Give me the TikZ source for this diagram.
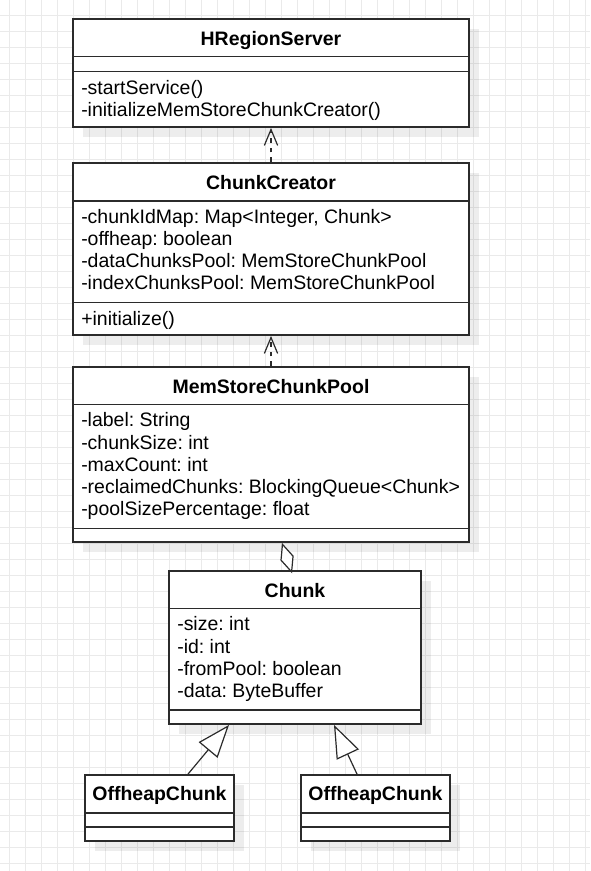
\documentclass[tikz,border=0pt]{standalone}
\usepackage{fontspec}
\setmainfont{Liberation Sans}
\usetikzlibrary{arrows.meta,calc,fit,shadows}
\definecolor{gridc}{HTML}{EAEAEA}
\definecolor{linec}{HTML}{2B2B2B}
\frenchspacing
\begin{document}
\begin{tikzpicture}[x=0.75pt,y=-0.75pt,
  gridline/.style={draw=gridc,line width=0.75pt},
  classbox/.style={draw=linec,line width=1.4pt,fill=white,inner sep=0pt,
    drop shadow={shadow xshift=7.5pt,shadow yshift=-7.5pt,fill=black,opacity=0.07}},
  sepline/.style={draw=linec,line width=1.1pt},
  attr/.style={anchor=base west,inner sep=0pt,text=black,font=\fontsize{14.6}{17}\selectfont\frenchspacing},
  ctitle/.style={anchor=base,inner sep=0pt,text=black,font=\fontsize{14.6}{17}\selectfont\bfseries},
  dep/.style={draw=linec,line width=0.9pt,dash pattern=on 3.6pt off 3.6pt,
    -{Straight Barb[length=12pt,width=10pt,line width=0.9pt]}},
  agg/.style={draw=linec,line width=0.9pt,{Diamond[length=24pt,width=10.5pt,fill=white]}-},
  gen/.style={draw=linec,line width=0.9pt,-{Triangle[length=24.5pt,width=18.3pt,fill=white]}}
]
\useasboundingbox (0,0) rectangle (590,871);
\fill[white] (0,0) rectangle (590,871);
\foreach \i in {0,...,36} \draw[gridline] ({9.3+16*\i},0) -- ({9.3+16*\i},871);
\foreach \j in {0,...,53} \draw[gridline] (0,{15.3+16*\j}) -- (590,{15.3+16*\j});

% HRegionServer
\node[classbox,fit={(73,19) (469,127)}] (hrs) {};
\draw[sepline] (73,56.7) -- (469,56.7);
\draw[sepline] (73,71.7) -- (469,71.7);
\node[ctitle] (hrst) at (271,45.7) {HRegionServer};
\node[attr] (hrsm1) at (81,94.2) {-startService()};
\node[attr] (hrsm2) at (81,116.5) {-initializeMemStoreChunkCreator()};

% ChunkCreator
\node[classbox,fit={(73,163) (469,335)}] (cc) {};
\draw[sepline] (73,201) -- (469,201);
\draw[sepline] (73,302.7) -- (469,302.7);
\node[ctitle] (cct) at (271,189.7) {ChunkCreator};
\node[attr] (cca1) at (81,223) {-chunkIdMap: Map<Integer, Chunk>};
\node[attr] (cca2) at (81,245.3) {-offheap: boolean};
\node[attr] (cca3) at (81,267.6) {-dataChunksPool: MemStoreChunkPool};
\node[attr] (cca4) at (81,289.9) {-indexChunksPool: MemStoreChunkPool};
\node[attr] (ccm1) at (81,325) {+initialize()};

% MemStoreChunkPool
\node[classbox,fit={(73,367) (469,542)}] (pool) {};
\draw[sepline] (73,404.5) -- (469,404.5);
\draw[sepline] (73,528.3) -- (469,528.3);
\node[ctitle] (poolt) at (271,393.7) {MemStoreChunkPool};
\node[attr] (poola1) at (81,426.7) {-label: String};
\node[attr] (poola2) at (81,449) {-chunkSize: int};
\node[attr] (poola3) at (81,471.3) {-maxCount: int};
\node[attr] (poola4) at (81,493.6) {-reclaimedChunks: BlockingQueue<Chunk>};
\node[attr] (poola5) at (81,515.9) {-poolSizePercentage: float};

% Chunk
\node[classbox,fit={(169,571) (421,724)}] (chunk) {};
\draw[sepline] (169,608.3) -- (421,608.3);
\draw[sepline] (169,710) -- (421,710);
\node[ctitle] (chunkt) at (295,597.7) {Chunk};
\node[attr] (chunka1) at (177,630.7) {-size: int};
\node[attr] (chunka2) at (177,653) {-id: int};
\node[attr] (chunka3) at (177,675.3) {-fromPool: boolean};
\node[attr] (chunka4) at (177,697.6) {-data: ByteBuffer};

% OffheapChunk (left)
\node[classbox,fit={(85,775) (234,841)}] (offa) {};
\draw[sepline] (85,813) -- (234,813);
\draw[sepline] (85,827) -- (234,827);
\node[ctitle] (offat) at (159.5,800.5) {OffheapChunk};

% OffheapChunk (right)
\node[classbox,fit={(301,775) (450,841)}] (offb) {};
\draw[sepline] (301,813) -- (450,813);
\draw[sepline] (301,827) -- (450,827);
\node[ctitle] (offbt) at (375.5,800.5) {OffheapChunk};

% connectors
\draw[dep] (cc.north) -- (hrs.south);
\draw[dep] (pool.north) -- (cc.south);
\draw[agg] ($(pool.south)+(11,0)$) -- ($(chunk.north)+(-4,0)$);
\draw[gen] ($(offa.north)+(28.5,0)$) -- ($(chunk.south)+(-66,0)$);
\draw[gen] ($(offb.north)+(-18.5,0)$) -- ($(chunk.south)+(39,0)$);
\end{tikzpicture}
\end{document}
